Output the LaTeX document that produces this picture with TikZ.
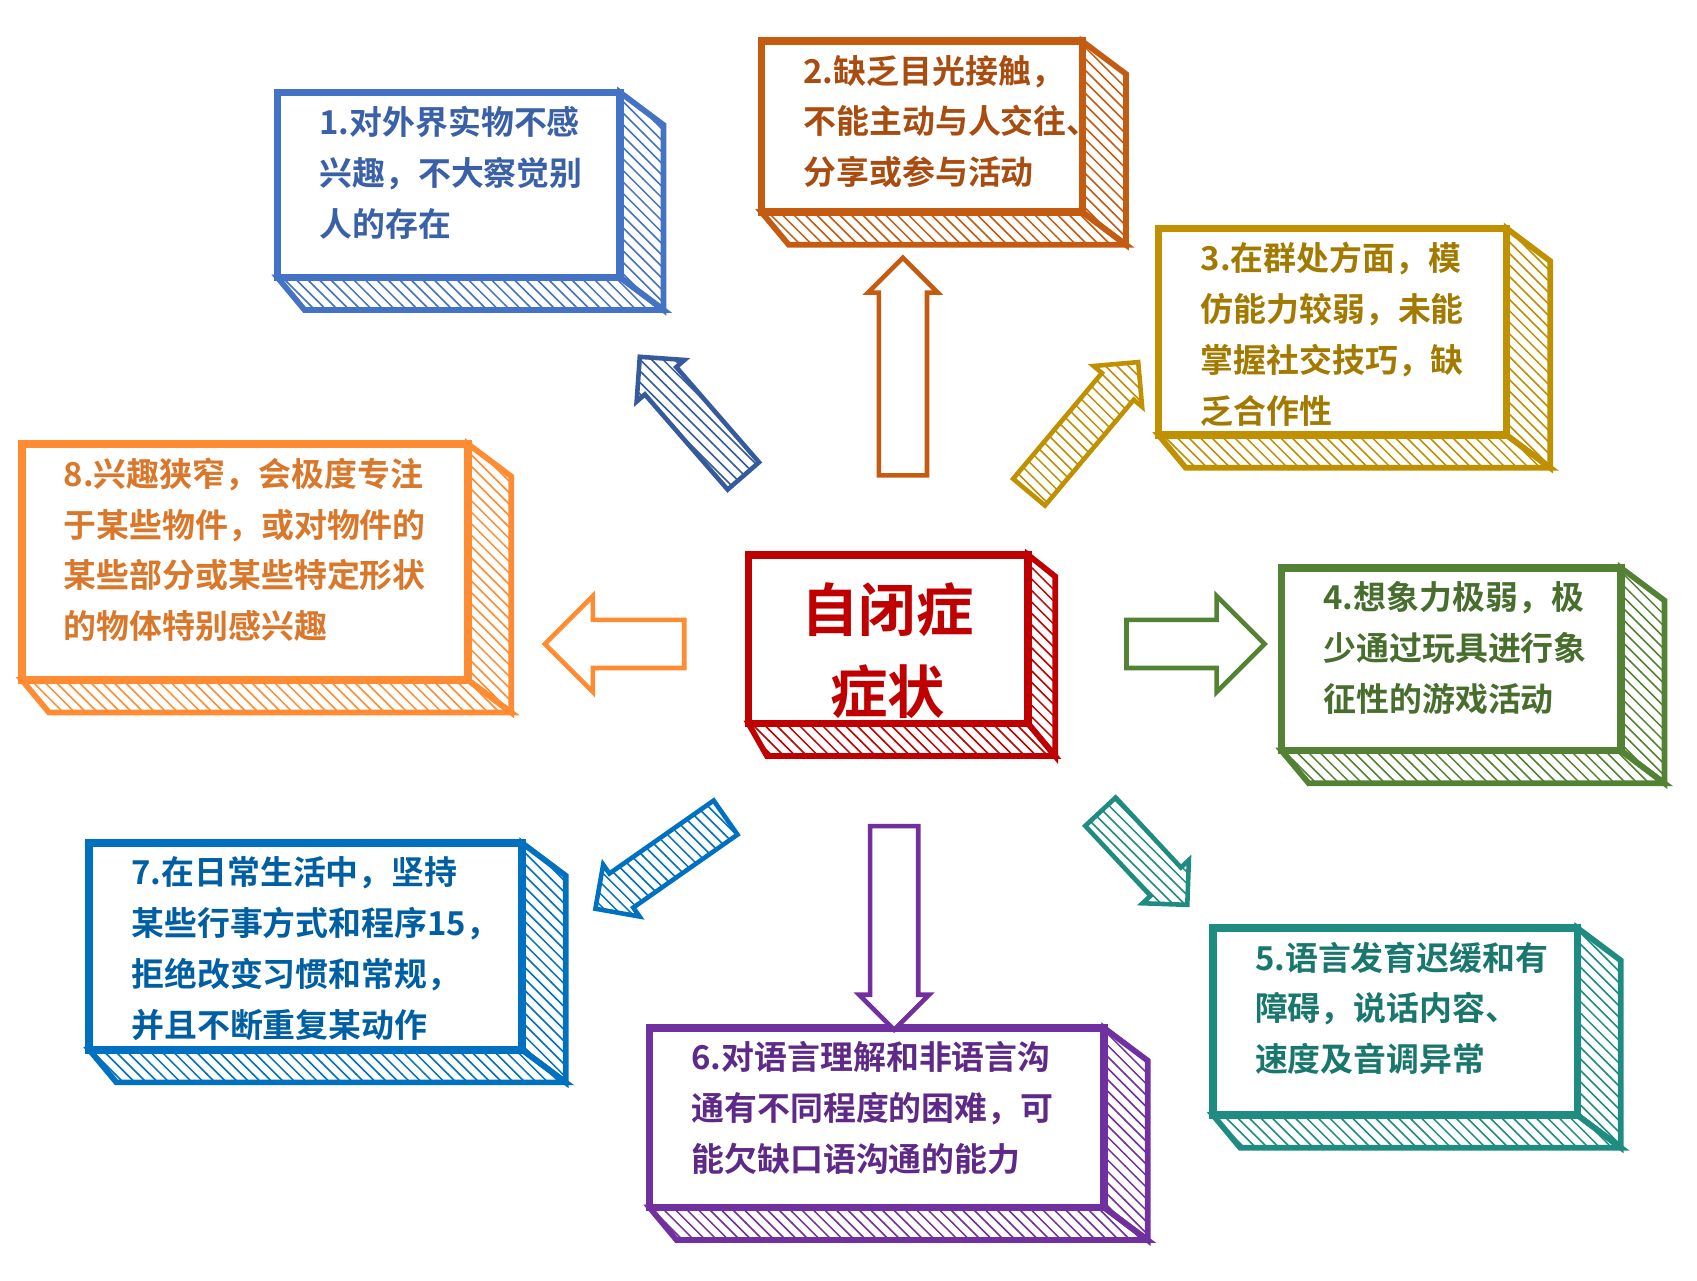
\documentclass[tikz,border=0pt]{standalone}
\usepackage{fontspec}
\setmainfont{Noto Sans CJK SC}[BoldFont={* Bold}]
\usetikzlibrary{patterns,shapes.arrows}
\definecolor{BoxA}{RGB}{68,114,196}
\definecolor{BoxB}{RGB}{197,90,17}
\definecolor{BoxC}{RGB}{191,144,0}
\definecolor{BoxD}{RGB}{84,130,53}
\definecolor{BoxE}{RGB}{31,140,130}
\definecolor{BoxF}{RGB}{112,48,160}
\definecolor{BoxG}{RGB}{0,112,192}
\definecolor{BoxH}{RGB}{255,140,50}
\definecolor{BoxM}{RGB}{192,0,0}
\tikzset{
  face/.style={pattern=north west lines, pattern color=#1, draw=#1, line width=1.5pt},
  front/.style={fill=white, draw=#1, line width=2pt},
  symtext/.style={anchor=north west, align=left, inner sep=0pt, font=\bfseries\fontsize{8.6}{13.3}\selectfont},
  hatcharrow/.style={single arrow, draw=#1, line width=1.2pt, pattern=north west lines, pattern color=#1,
    single arrow head extend=0.1cm, inner sep=0.17cm},
  openarrow/.style={single arrow, draw=#1, line width=1.2pt, fill=white,
    single arrow head extend=0.1cm, inner sep=0.2cm}
}
% sketched box: name, x, y, width, height, colour, text
\newcommand\symbox[7]{%
  \filldraw[face=#6] ({#2+#4},#3) -- ++(40,30) -- ++(0,#5) -- ({#2+#4},{#3+#5}) -- cycle;
  \filldraw[face=#6] (#2,{#3+#5}) -- ({#2+#4},{#3+#5}) -- ++(40,30) -- ({#2+25},{#3+#5+30}) -- cycle;
  \draw[front=#6] (#2,#3) rectangle ++(#4,#5);
  \node[symtext, text=#6!85!black] (#1) at ({#2+38},{#3+12}) {#7};
}
\begin{document}
\begin{tikzpicture}[x=0.01cm,y=-0.01cm]
\useasboundingbox (0,0) rectangle (1560,1177);

\symbox{one}{255}{85}{315}{170}{BoxA}{1.对外界实物不感\\兴趣，不大察觉别\\人的存在}
\symbox{two}{700}{38}{295}{157}{BoxB}{2.缺乏目光接触，\\不能主动与人交往、\\分享或参与活动}
\symbox{three}{1065}{210}{320}{190}{BoxC}{3.在群处方面，模\\仿能力较弱，未能\\掌握社交技巧，缺\\乏合作性}
\symbox{eight}{20}{408}{410}{217}{BoxH}{8.兴趣狭窄，会极度专注\\于某些物件，或对物件的\\某些部分或某些特定形状\\的物体特别感兴趣}
\symbox{four}{1178}{522}{312}{168}{BoxD}{4.想象力极弱，极\\少通过玩具进行象\\征性的游戏活动}
\symbox{seven}{82}{775}{398}{190}{BoxG}{7.在日常生活中，坚持\\某些行事方式和程序15，\\拒绝改变习惯和常规，\\并且不断重复某动作}
\symbox{six}{597}{945}{418}{165}{BoxF}{6.对语言理解和非语言沟\\通有不同程度的困难，可\\能欠缺口语沟通的能力}
\symbox{five}{1115}{853}{335}{172}{BoxE}{5.语言发育迟缓和有\\障碍，说话内容、\\速度及音调异常}

% centre box
\filldraw[face=BoxM] (945,510) -- ++(25,20) -- ++(0,165) -- (945,665) -- cycle;
\filldraw[face=BoxM] (688,665) -- (945,665) -- ++(25,30) -- (705,695) -- cycle;
\draw[front=BoxM] (688,510) rectangle (945,665);
\node[font=\bfseries\fontsize{15}{21.5}\selectfont, text=BoxM, align=center] (core) at (816,598) {自闭症\\症状};

% arrows
\node[openarrow=BoxB, minimum height=2cm, minimum width=0.6cm, rotate=90] (aup) at (830,348) {};
\node[hatcharrow=BoxA!80!black, minimum height=1.45cm, minimum width=0.55cm, rotate=131] (aul) at (642,390) {};
\node[hatcharrow=BoxC, minimum height=1.56cm, minimum width=0.55cm, rotate=50] (aur) at (990,400) {};
\node[openarrow=BoxH, minimum height=1.28cm, minimum width=0.85cm, single arrow head extend=0.22cm, rotate=180] (al) at (576,592) {};
\node[openarrow=BoxD, minimum height=1.27cm, minimum width=0.85cm, single arrow head extend=0.22cm] (ar) at (1088,592) {};
\node[hatcharrow=BoxG, minimum height=1.46cm, minimum width=0.55cm, rotate=215] (adl) at (615,788) {};
\node[openarrow=BoxF, minimum height=1.87cm, minimum width=0.6cm, rotate=270] (ad) at (822,842) {};
\node[hatcharrow=BoxE, minimum height=1.17cm, minimum width=0.55cm, rotate=-47] (adr) at (1045,782) {};
\end{tikzpicture}
\end{document}
